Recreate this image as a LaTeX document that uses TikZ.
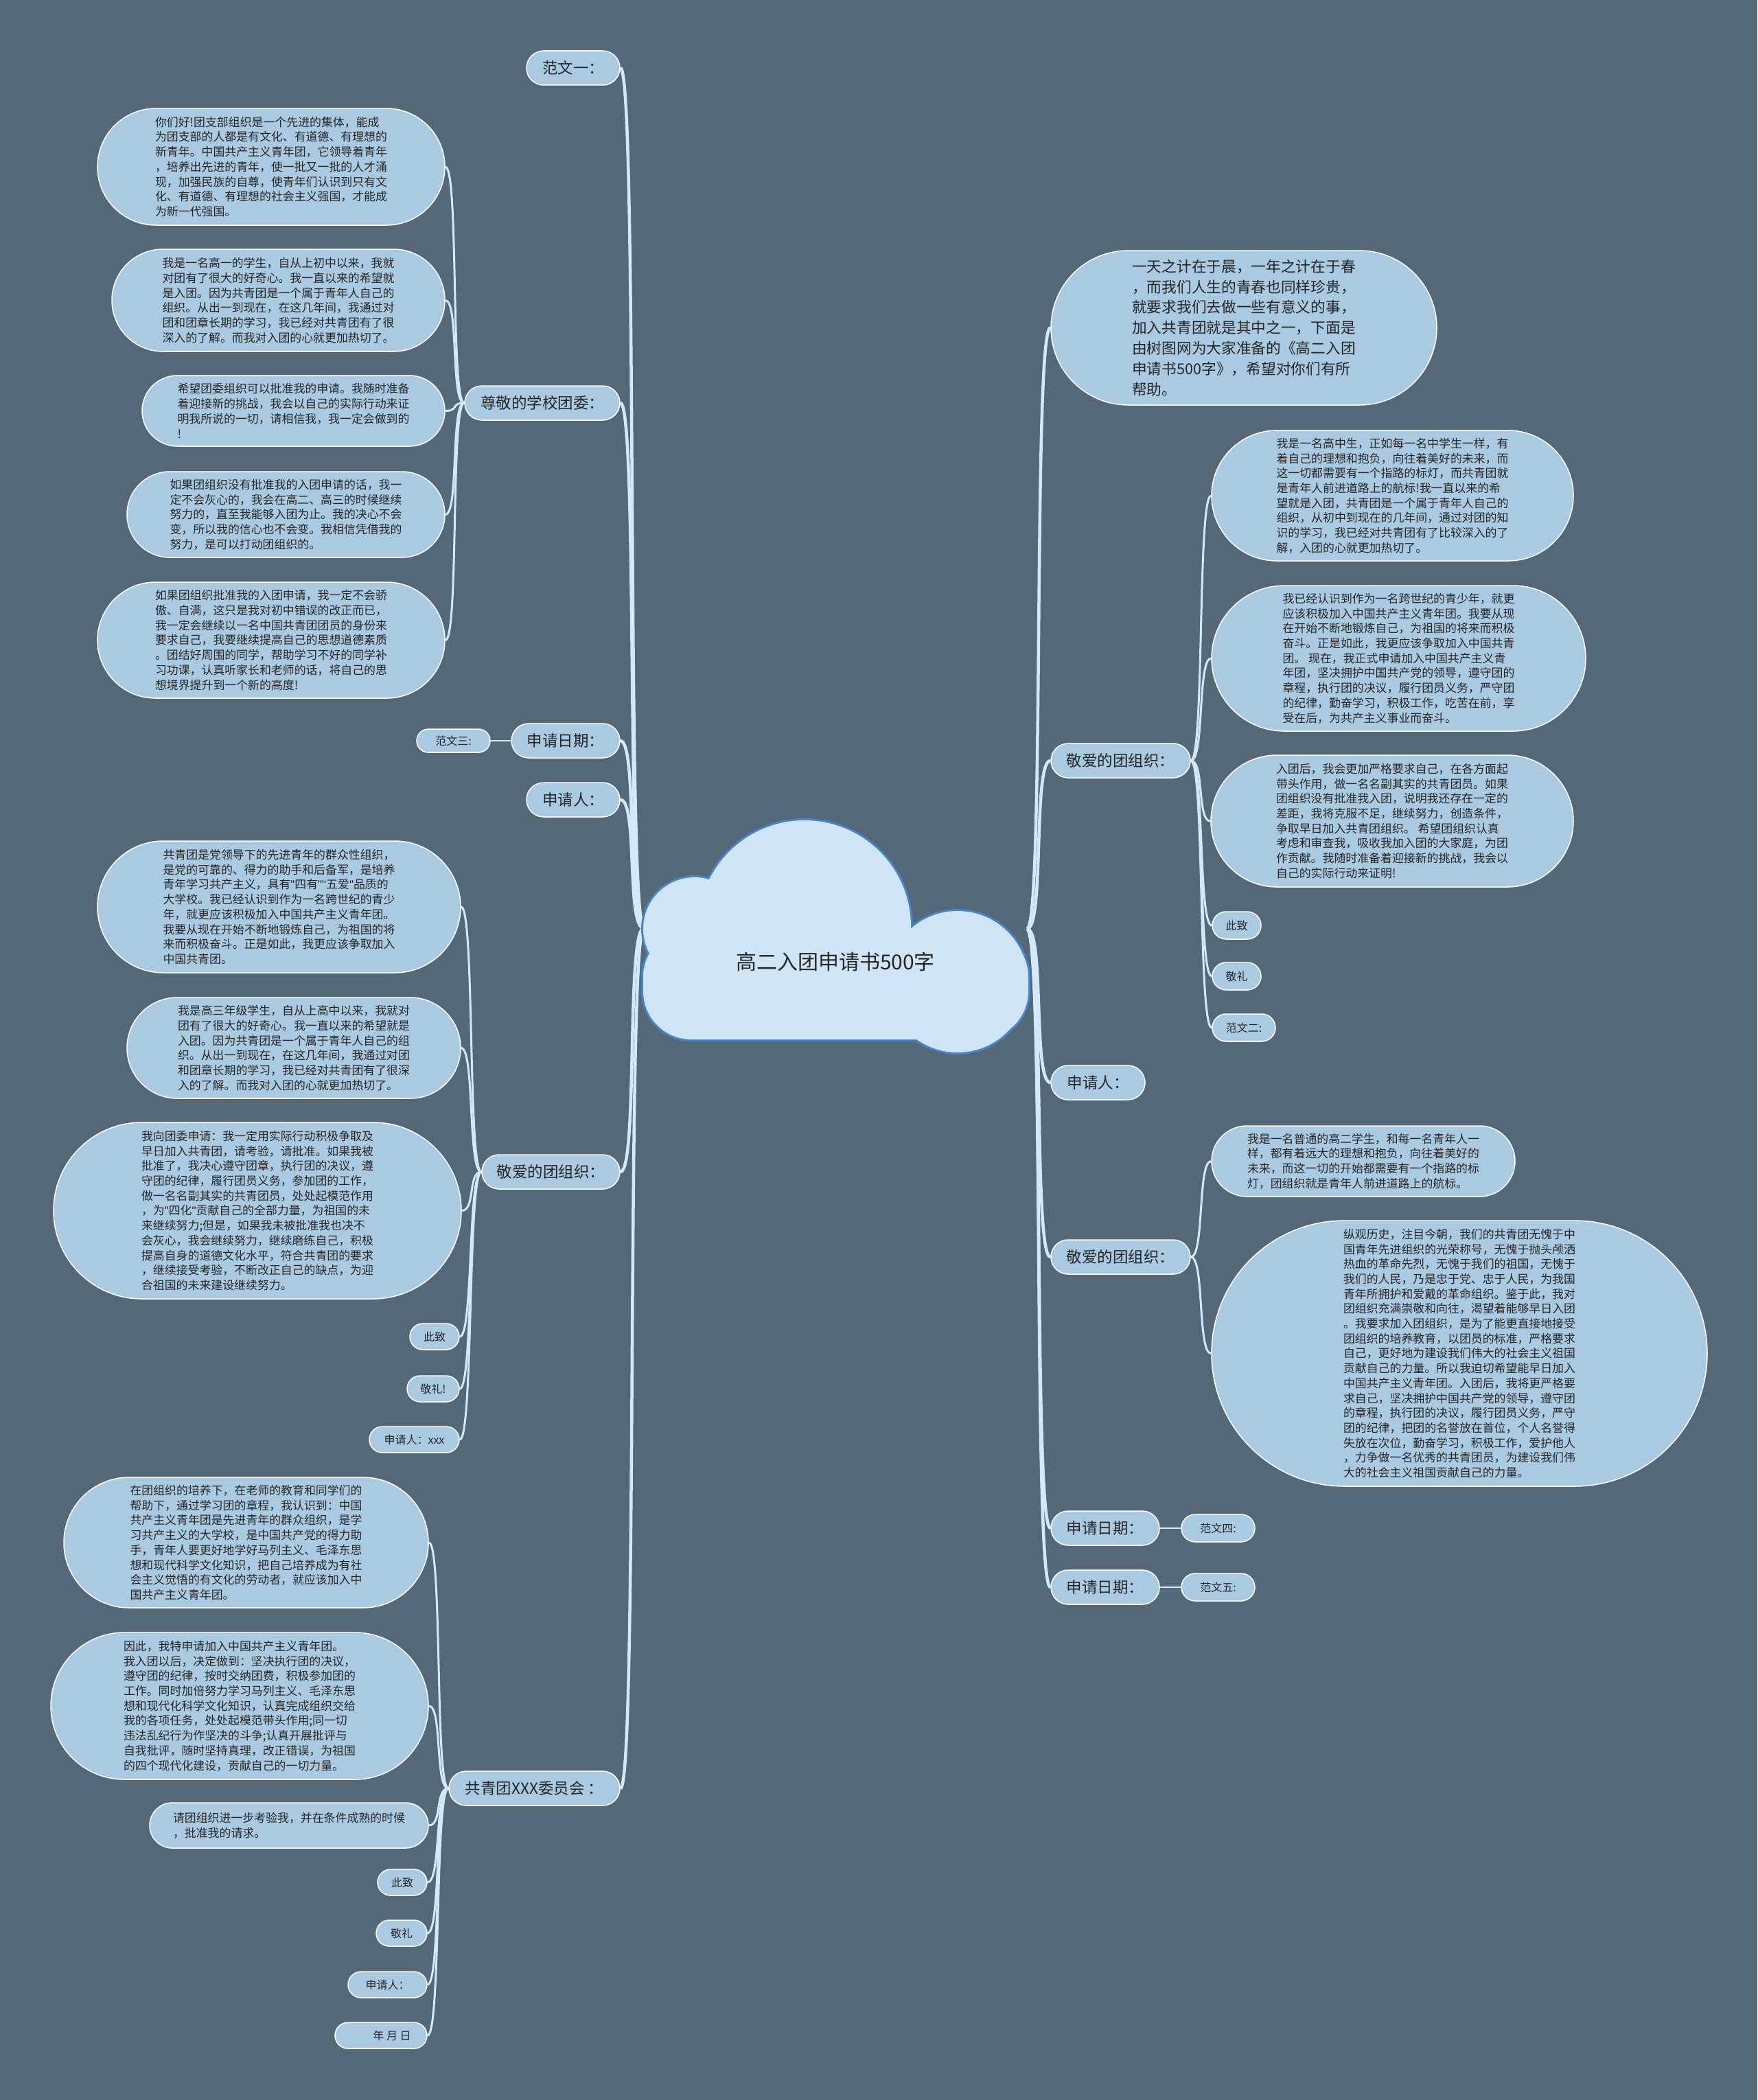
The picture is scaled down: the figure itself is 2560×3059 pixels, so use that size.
\documentclass[tikz,border=0pt]{standalone}
\usepackage{fontspec}
\setmainfont{Noto Sans CJK SC}
\newfontfamily\latq{Liberation Sans}
\definecolor{bgc}{RGB}{84,104,120}
\definecolor{nodefill}{RGB}{170,202,226}
\definecolor{linec}{RGB}{212,233,247}
\definecolor{cloudfill}{RGB}{207,229,245}
\definecolor{cloudline}{RGB}{72,132,200}
\definecolor{txt}{RGB}{38,38,38}
\pgfdeclarelayer{bglayer}
\pgfdeclarelayer{linelayer}
\pgfsetlayers{bglayer,linelayer,main}
\newcommand{\qq}{{\latq"}}
\begin{document}
\begin{tikzpicture}[x=1pt,y=-1pt,
  base/.style={rectangle, fill=nodefill, draw=white, line width=1.5pt, text=txt, inner sep=0pt},
  para/.style={base, align=left, font=\fontsize{16.9}{21.7}\selectfont},
  intro/.style={base, align=left, font=\fontsize{21.7}{29.8}\selectfont},
  lvl/.style={base, align=center, minimum height=50pt, rounded corners=25pt, font=\fontsize{22.5}{27}\selectfont},
  small/.style={base, align=center, minimum height=38pt, rounded corners=19pt, font=\fontsize{16}{19}\selectfont},
  mainlink/.style={draw=linec, line width=4.5pt},
  sublink/.style={draw=linec, line width=3pt},
  thinlink/.style={draw=linec, line width=2pt}
]
\useasboundingbox (0,0) rectangle (2560,3059);
\begin{pgfonlayer}{bglayer}
\fill[bgc] (0,0) rectangle (2560,3059);
\end{pgfonlayer}

% ---------- cloud ----------
\draw[cloudline, line width=6pt, rounded corners=70pt] (937,1353) rectangle (1498,1514);
\draw[cloudline, line width=6pt] (1012,1353) circle[radius=75pt];
\draw[cloudline, line width=6pt] (1172,1350) circle[radius=155pt];
\draw[cloudline, line width=6pt] (1395,1430) circle[radius=103pt];
\fill[cloudfill, rounded corners=70pt] (937,1353) rectangle (1498,1514);
\fill[cloudfill] (1012,1353) circle[radius=75pt];
\fill[cloudfill] (1172,1350) circle[radius=155pt];
\fill[cloudfill] (1395,1430) circle[radius=103pt];
\node[text=txt, font=\fontsize{30}{36}\selectfont] (center) at (1217,1401) {高二入团申请书500字};
\coordinate (cL) at (938,1352);
\coordinate (cR) at (1496,1353);

% ---------- left level 1 ----------
\node[lvl, minimum width=136pt] (fw1) at (835,99) {范文一：};
\node[lvl, minimum width=226pt] (zj) at (790,587) {尊敬的学校团委：};
\node[lvl, minimum width=158pt] (sqrqL) at (824,1079) {申请日期：};
\node[small, minimum width=107pt, minimum height=34pt, rounded corners=17pt] (fw3) at (660.5,1079) {范文三:};
\node[lvl, minimum width=136pt] (sqrL) at (835,1165) {申请人：};
\node[lvl, minimum width=201pt] (jaL) at (802.5,1707) {敬爱的团组织：};
\node[lvl, minimum width=249pt] (gqt) at (778.5,2605) {共青团XXX委员会 ：};

% ---------- left paragraphs ----------
\node[para, minimum width=506pt, minimum height=170pt, rounded corners=85pt] (p1) at (395,243) {你们好!团支部组织是一个先进的集体，能成\\为团支部的人都是有文化、有道德、有理想的\\新青年。中国共产主义青年团，它领导着青年\\，培养出先进的青年，使一批又一批的人才涌\\现，加强民族的自尊，使青年们认识到只有文\\化、有道德、有理想的社会主义强国，才能成\\为新一代强国。};
\node[para, minimum width=485pt, minimum height=149pt, rounded corners=74.5pt] (p2) at (405.5,437.5) {我是一名高一的学生，自从上初中以来，我就\\对团有了很大的好奇心。我一直以来的希望就\\是入团。因为共青团是一个属于青年人自己的\\组织。从出一到现在，在这几年间，我通过对\\团和团章长期的学习，我已经对共青团有了很\\深入的了解。而我对入团的心就更加热切了。};
\node[para, minimum width=441pt, minimum height=103pt, rounded corners=51.5pt] (p3) at (427.5,598.5) {希望团委组织可以批准我的申请。我随时准备\\着迎接新的挑战，我会以自己的实际行动来证\\明我所说的一切，请相信我，我一定会做到的\\!};
\node[para, minimum width=463pt, minimum height=125pt, rounded corners=62.5pt] (p4) at (416.5,749.5) {如果团组织没有批准我的入团申请的话，我一\\定不会灰心的，我会在高二、高三的时候继续\\努力的，直至我能够入团为止。我的决心不会\\变，所以我的信心也不会变。我相信凭借我的\\努力，是可以打动团组织的。};
\node[para, minimum width=506pt, minimum height=169pt, rounded corners=84.5pt] (p5) at (395,932.5) {如果团组织批准我的入团申请，我一定不会骄\\傲、自满，这只是我对初中错误的改正而已，\\我一定会继续以一名中国共青团团员的身份来\\要求自己，我要继续提高自己的思想道德素质\\。团结好周围的同学，帮助学习不好的同学补\\习功课，认真听家长和老师的话，将自己的思\\想境界提升到一个新的高度!};

\node[para, minimum width=529pt, minimum height=192pt, rounded corners=96pt] (q1) at (406.5,1321) {共青团是党领导下的先进青年的群众性组织，\\是党的可靠的、得力的助手和后备军，是培养\\青年学习共产主义，具有\qq 四有\qq\qq 五爱\qq 品质的\\大学校。我已经认识到作为一名跨世纪的青少\\年，就更应该积极加入中国共产主义青年团。\\我要从现在开始不断地锻炼自己，为祖国的将\\来而积极奋斗。正是如此，我更应该争取加入\\中国共青团。};
\node[para, minimum width=486pt, minimum height=147pt, rounded corners=73.5pt] (q2) at (428,1526.5) {我是高三年级学生，自从上高中以来，我就对\\团有了很大的好奇心。我一直以来的希望就是\\入团。因为共青团是一个属于青年人自己的组\\织。从出一到现在，在这几年间，我通过对团\\和团章长期的学习，我已经对共青团有了很深\\入的了解。而我对入团的心就更加热切了。};
\node[para, minimum width=594pt, minimum height=257pt, rounded corners=128.5pt] (q3) at (375,1763.5) {我向团委申请：我一定用实际行动积极争取及\\早日加入共青团，请考验，请批准。如果我被\\批准了，我决心遵守团章，执行团的决议，遵\\守团的纪律，履行团员义务，参加团的工作，\\做一名名副其实的共青团员，处处起模范作用\\，为\qq 四化\qq 贡献自己的全部力量，为祖国的未\\来继续努力;但是，如果我未被批准我也决不\\会灰心，我会继续努力，继续磨练自己，积极\\提高自身的道德文化水平，符合共青团的要求\\，继续接受考验，不断改正自己的缺点，为迎\\合祖国的未来建设继续努力。};
\node[small, minimum width=72pt] (czL) at (633,1947) {此致};
\node[small, minimum width=76pt] (jlL) at (631,2023) {敬礼!};
\node[small, minimum width=131pt] (sxL) at (603.5,2097) {申请人：xxx};

\node[para, minimum width=531pt, minimum height=190pt, rounded corners=95pt] (r1) at (358.5,2247) {在团组织的培养下，在老师的教育和同学们的\\帮助下，通过学习团的章程，我认识到：中国\\共产主义青年团是先进青年的群众组织，是学\\习共产主义的大学校，是中国共产党的得力助\\手，青年人要更好地学好马列主义、毛泽东思\\想和现代科学文化知识，把自己培养成为有社\\会主义觉悟的有文化的劳动者，就应该加入中\\国共产主义青年团。};
\node[para, minimum width=550pt, minimum height=214pt, rounded corners=107pt] (r2) at (349,2485) {因此，我特申请加入中国共产主义青年团。\\我入团以后，决定做到：坚决执行团的决议，\\遵守团的纪律，按时交纳团费，积极参加团的\\工作。同时加倍努力学习马列主义、毛泽东思\\想和现代化科学文化知识，认真完成组织交给\\我的各项任务，处处起模范带头作用;同一切\\违法乱纪行为作坚决的斗争;认真开展批评与\\自我批评，随时坚持真理，改正错误，为祖国\\的四个现代化建设，贡献自己的一切力量。};
\node[para, minimum width=406pt, minimum height=66pt, rounded corners=33pt] (r3) at (421,2659) {请团组织进一步考验我，并在条件成熟的时候\\，批准我的请求。};
\node[small, minimum width=72pt] (czB) at (586,2742) {此致};
\node[small, minimum width=74pt] (jlB) at (585,2816) {敬礼};
\node[small, minimum width=115pt] (sqB) at (564.5,2891) {申请人：};
\node[small, minimum width=134pt] (nyr) at (555,2965) {\hspace*{32pt}年 月 日};

% ---------- right level 1 ----------
\node[intro, minimum width=562pt, minimum height=225pt, rounded corners=112.5pt] (intro) at (1812,477.5) {一天之计在于晨，一年之计在于春\\，而我们人生的青春也同样珍贵，\\就要求我们去做一些有意义的事，\\加入共青团就是其中之一，下面是\\由树图网为大家准备的《高二入团\\申请书500字》，希望对你们有所\\帮助。};
\node[lvl, minimum width=203pt] (jaR1) at (1632.5,1108) {敬爱的团组织：};
\node[lvl, minimum width=137pt] (sqrR) at (1599.5,1577) {申请人：};
\node[lvl, minimum width=203pt] (jaR2) at (1632.5,1831) {敬爱的团组织：};
\node[lvl, minimum width=158pt] (sqrqR1) at (1610,2226) {申请日期：};
\node[lvl, minimum width=158pt] (sqrqR2) at (1610,2312) {申请日期：};
\node[small, minimum width=107pt, minimum height=40pt, rounded corners=20pt] (fw4) at (1774.5,2226) {范文四:};
\node[small, minimum width=107pt, minimum height=40pt, rounded corners=20pt] (fw5) at (1774.5,2312) {范文五:};

% ---------- right paragraphs ----------
\node[para, minimum width=527pt, minimum height=190pt, rounded corners=95pt] (s1) at (2028.5,722) {我是一名高中生，正如每一名中学生一样，有\\着自己的理想和抱负，向往着美好的未来，而\\这一切都需要有一个指路的标灯，而共青团就\\是青年人前进道路上的航标!我一直以来的希\\望就是入团，共青团是一个属于青年人自己的\\组织，从初中到现在的几年间，通过对团的知\\识的学习，我已经对共青团有了比较深入的了\\解，入团的心就更加热切了。};
\node[para, minimum width=545pt, minimum height=212pt, rounded corners=106pt] (s2) at (2037.5,959) {我已经认识到作为一名跨世纪的青少年，就更\\应该积极加入中国共产主义青年团。我要从现\\在开始不断地锻炼自己，为祖国的将来而积极\\奋斗。正是如此，我更应该争取加入中国共青\\团。 现在，我正式申请加入中国共产主义青\\年团，坚决拥护中国共产党的领导，遵守团的\\章程，执行团的决议，履行团员义务，严守团\\的纪律，勤奋学习，积极工作，吃苦在前，享\\受在后，为共产主义事业而奋斗。};
\node[para, minimum width=528pt, minimum height=192pt, rounded corners=96pt] (s3) at (2028,1196) {入团后，我会更加严格要求自己，在各方面起\\带头作用，做一名名副其实的共青团员。如果\\团组织没有批准我入团，说明我还存在一定的\\差距，我将克服不足，继续努力，创造条件，\\争取早日加入共青团组织。 希望团组织认真\\考虑和审查我，吸收我加入团的大家庭，为团\\作贡献。我随时准备着迎接新的挑战，我会以\\自己的实际行动来证明!};
\node[small, minimum width=71pt, minimum height=40pt, rounded corners=20pt] (czR) at (1801.5,1348) {此致};
\node[small, minimum width=71pt, minimum height=40pt, rounded corners=20pt] (jlR) at (1801.5,1422) {敬礼};
\node[small, minimum width=92pt, minimum height=40pt, rounded corners=20pt] (fw2) at (1812,1497) {范文二:};

\node[para, minimum width=442pt, minimum height=103pt, rounded corners=51.5pt] (t1) at (1986,1691.5) {我是一名普通的高二学生，和每一名青年人一\\样，都有着远大的理想和抱负，向往着美好的\\未来，而这一切的开始都需要有一个指路的标\\灯，团组织就是青年人前进道路上的航标。};
\node[para, minimum width=722pt, minimum height=387pt, rounded corners=193.5pt] (t2) at (2126,1971.5) {纵观历史，注目今朝，我们的共青团无愧于中\\国青年先进组织的光荣称号，无愧于抛头颅洒\\热血的革命先烈，无愧于我们的祖国，无愧于\\我们的人民，乃是忠于党、忠于人民，为我国\\青年所拥护和爱戴的革命组织。鉴于此，我对\\团组织充满崇敬和向往，渴望着能够早日入团\\。我要求加入团组织，是为了能更直接地接受\\团组织的培养教育，以团员的标准，严格要求\\自己，更好地为建设我们伟大的社会主义祖国\\贡献自己的力量。所以我迫切希望能早日加入\\中国共产主义青年团。入团后，我将更严格要\\求自己，坚决拥护中国共产党的领导，遵守团\\的章程，执行团的决议，履行团员义务，严守\\团的纪律，把团的名誉放在首位，个人名誉得\\失放在次位，勤奋学习，积极工作，爱护他人\\，力争做一名优秀的共青团员，为建设我们伟\\大的社会主义祖国贡献自己的力量。};

% ---------- connectors ----------
\begin{pgfonlayer}{linelayer}
\foreach \n in {fw1,zj,sqrqL,sqrL,jaL,gqt}
  \draw[mainlink] (cL) .. controls +(-26,0) and +(26,0) .. (\n.east);
\foreach \n in {intro,jaR1,sqrR,jaR2,sqrqR1,sqrqR2}
  \draw[mainlink] (cR) .. controls +(26,0) and +(-26,0) .. (\n.west);
\foreach \n in {p1,p2,p3,p4,p5}
  \draw[sublink] (zj.west) .. controls +(-20,0) and +(20,0) .. (\n.east);
\foreach \n in {q1,q2,q3,czL,jlL,sxL}
  \draw[sublink] (jaL.west) .. controls +(-20,0) and +(20,0) .. (\n.east);
\foreach \n in {r1,r2,r3,czB,jlB,sqB,nyr}
  \draw[sublink] (gqt.west) .. controls +(-20,0) and +(20,0) .. (\n.east);
\foreach \n in {s1,s2,s3,czR,jlR,fw2}
  \draw[sublink] (jaR1.east) .. controls +(20,0) and +(-20,0) .. (\n.west);
\foreach \n in {t1,t2}
  \draw[sublink] (jaR2.east) .. controls +(20,0) and +(-20,0) .. (\n.west);
\draw[thinlink] (sqrqL.west) -- (fw3.east);
\draw[thinlink] (sqrqR1.east) -- (fw4.west);
\draw[thinlink] (sqrqR2.east) -- (fw5.west);
\end{pgfonlayer}
\end{tikzpicture}
\end{document}
